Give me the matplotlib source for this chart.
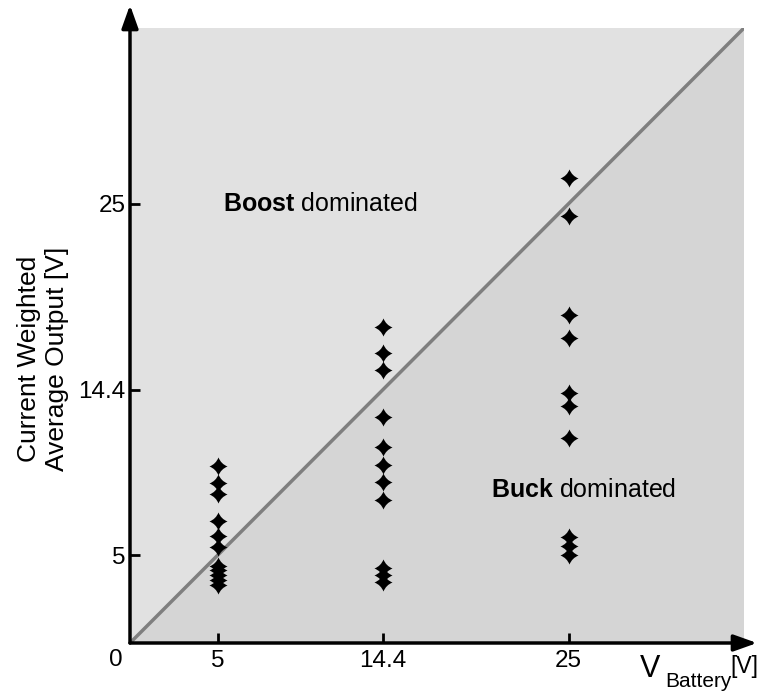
import matplotlib
matplotlib.use("Agg")
import matplotlib.pyplot as plt
from matplotlib.path import Path
import numpy as np

plt.rcParams['font.family'] = ['Liberation Sans', 'DejaVu Sans']
plt.rcParams['mathtext.fontset'] = 'custom'
plt.rcParams['mathtext.rm'] = 'Liberation Sans'
plt.rcParams['mathtext.it'] = 'Liberation Sans:italic'
plt.rcParams['mathtext.bf'] = 'Liberation Sans:bold'

# Data
x_batt_5 = 5.0
y_out_5 = [10.07, 9.1, 8.5, 6.96, 6.1, 5.49, 4.41, 4.13, 3.85, 3.56, 3.28]
x_batt_14 = 14.4
y_out_14 = [17.99, 16.53, 15.55, 12.84, 11.14, 10.12, 9.16, 8.14, 4.24, 3.85, 3.45]
x_batt_25 = 25.0
y_out_25 = [26.47, 24.32, 18.67, 17.36, 14.25, 13.46, 11.65, 6.02, 5.51, 5.0]

tick_vals = [5, 14.4, 25]
tick_labels = ["5", "14.4", "25"]
lim = 35.0

# 4-point curved star marker
c = 0.28
verts = [(0, 1), (c, c), (1, 0), (c, -c), (0, -1), (-c, -c), (-1, 0), (-c, c), (0, 1), (0, 1)]
codes = [Path.MOVETO, Path.CURVE3, Path.CURVE3, Path.CURVE3, Path.CURVE3,
         Path.CURVE3, Path.CURVE3, Path.CURVE3, Path.CURVE3, Path.CLOSEPOLY]
star = Path(verts, codes)

fig = plt.figure(figsize=(7.61, 6.94), dpi=100)
ax = fig.add_axes([130/761, 51/694, 614/761, 615/694])
ax.set_xlim(0, lim)
ax.set_ylim(0, lim)

# background regions
ax.fill([0, 0, lim], [0, lim, lim], color='#e1e1e1', lw=0, zorder=0)
ax.fill([0, lim, lim], [0, 0, lim], color='#d5d5d5', lw=0, zorder=0)
ax.plot([0, lim], [0, lim], color='#7f7f7f', lw=2.5, zorder=1, solid_capstyle='butt')

for xv, ys in [(x_batt_5, y_out_5), (x_batt_14, y_out_14), (x_batt_25, y_out_25)]:
    ax.plot([xv]*len(ys), ys, linestyle='none', marker=star, markersize=13,
            color='black', markeredgewidth=0, zorder=3)

for s in ax.spines.values():
    s.set_visible(False)

ax.set_xticks(tick_vals)
ax.set_xticklabels(tick_labels)
ax.set_yticks(tick_vals)
ax.set_yticklabels(tick_labels)
ax.tick_params(direction='in', length=7, width=2, labelsize=17.5, color='black')
ax.tick_params(axis='x', pad=5)
ax.tick_params(axis='y', pad=3)

# axes arrows
astyle = '-|>,head_length=1.4,head_width=0.5'
ax.annotate('', xy=((757-130)/614, 0), xytext=(0, 0), xycoords='axes fraction',
            arrowprops=dict(arrowstyle=astyle, lw=2.5, color='black',
                            shrinkA=0, shrinkB=0), annotation_clip=False)
ax.annotate('', xy=(0, (643-5)/615), xytext=(0, 0), xycoords='axes fraction',
            arrowprops=dict(arrowstyle=astyle, lw=2.5, color='black',
                            shrinkA=0, shrinkB=0), annotation_clip=False)

ax.text(-0.023, -0.027, '0', transform=ax.transAxes, ha='center', va='center', fontsize=17.5)
# x-axis label V_Battery [V]
ax.text((640-130)/614, -(677-643)/615, 'V', transform=ax.transAxes,
        ha='left', va='baseline', fontsize=22)
ax.text((665-130)/614, -(687-643)/615, 'Battery', transform=ax.transAxes,
        ha='left', va='baseline', fontsize=15)
ax.text((730-130)/614, -(673.5-643)/615, '[V]', transform=ax.transAxes,
        ha='left', va='baseline', fontsize=16.5)

ax.text(5.3, 25, r'$\mathbf{Boost}$ dominated', fontsize=18, va='center', ha='left')
ax.text(20.6, 8.7, r'$\mathbf{Buck}$ dominated', fontsize=18, va='center', ha='left')

fig.text(43/761, 1 - 359/694, 'Current Weighted\nAverage Output [V]', rotation=90,
         ha='center', va='center', fontsize=19, linespacing=1.25)

fig.savefig('out.png', dpi=100)
